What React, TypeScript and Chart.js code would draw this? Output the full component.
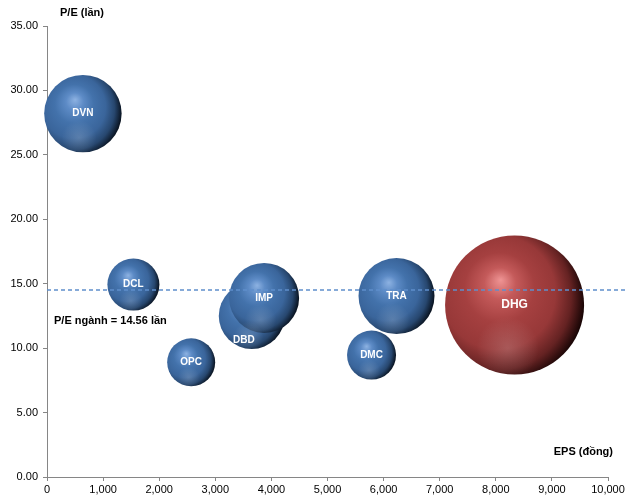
import React, { useEffect, useRef } from "react";
import { Chart, registerables } from "chart.js";

Chart.register(...registerables);

const companies = ["DVN", "DCL", "OPC", "DBD", "IMP", "TRA", "DMC", "DHG"];
const eps = [640, 1540, 2570, 3650, 3870, 6230, 5785, 8335];
const pe = [28.2, 14.93, 8.9, 12.5, 13.9, 14.04, 9.46, 13.35];
const bubbleSize = [1500, 676, 576, 1089, 1225, 1444, 600, 4830];
const industryPE = 14.56;
const highlighted = "DHG";

const MAX_R = 69.5;
const FONT = "'Liberation Sans', Arial, sans-serif";
const labelOffsets: Record<string, [number, number]> = { DBD: [-8, 24] };

const maxSize = Math.max(...bubbleSize);
const radiusOf = (i: number) => MAX_R * Math.sqrt(bubbleSize[i] / maxSize);

const blueStops: [number, string][] = [
  [0, "#8db2e2"],
  [0.18, "#5d8bc6"],
  [0.4, "#4372ab"],
  [0.65, "#3a659b"],
  [0.84, "#27476f"],
  [1, "#08111d"],
];
const redStops: [number, string][] = [
  [0, "#ef9494"],
  [0.18, "#c45a5a"],
  [0.4, "#a54040"],
  [0.65, "#973838"],
  [0.84, "#642222"],
  [1, "#160404"],
];

export default function App() {
  const ref = useRef<HTMLCanvasElement | null>(null);

  useEffect(() => {
    document.body.style.margin = "0";
    const canvas = ref.current;
    if (!canvas) return;

    const overlay = {
      id: "overlay",
      afterDatasetsDraw(chart: any) {
        const { ctx, chartArea, scales } = chart;
        ctx.save();
        companies.forEach((name, i) => {
          const cx = scales.x.getPixelForValue(eps[i]);
          const cy = scales.y.getPixelForValue(pe[i]);
          const r = radiusOf(i);
          ctx.save();
          ctx.beginPath();
          ctx.arc(cx, cy, r, 0, Math.PI * 2);
          ctx.clip();
          const g = ctx.createRadialGradient(cx - 0.1 * r, cy + 0.62 * r, 0, cx - 0.1 * r, cy + 0.62 * r, 0.45 * r);
          g.addColorStop(0, "rgba(255,255,255,0.16)");
          g.addColorStop(1, "rgba(255,255,255,0)");
          ctx.fillStyle = g;
          ctx.fillRect(cx - r, cy - r, 2 * r, 2 * r);
          ctx.restore();
        });

        const yRaw = scales.y.getPixelForValue(industryPE);
        const yLine = Math.round(yRaw) + 1;
        ctx.strokeStyle = "#5f8fcc";
        ctx.lineWidth = 1.3;
        ctx.setLineDash([4, 3]);
        ctx.beginPath();
        ctx.moveTo(chartArea.left, yLine);
        ctx.lineTo(chart.width - 2, yLine);
        ctx.stroke();
        ctx.setLineDash([]);

        ctx.fillStyle = "#ffffff";
        ctx.textAlign = "center";
        ctx.textBaseline = "middle";
        companies.forEach((name, i) => {
          const x = scales.x.getPixelForValue(eps[i]);
          const y = scales.y.getPixelForValue(pe[i]);
          const off = labelOffsets[name] || [0, 0];
          ctx.font = `bold ${name === highlighted ? 12 : 10}px ${FONT}`;
          ctx.fillText(name, x + off[0], y + off[1]);
        });

        ctx.fillStyle = "#000000";
        ctx.font = `bold 11px ${FONT}`;
        ctx.textAlign = "left";
        ctx.fillText(`P/E ngành = ${industryPE.toFixed(2)} lần`, chartArea.left + 7, yRaw + 32);
        ctx.textAlign = "center";
        ctx.fillText("P/E (lần)", 82, 13);
        ctx.textAlign = "right";
        ctx.fillText("EPS (đồng)", 613, 452);
        ctx.restore();
      },
    };

    const chart = new Chart(canvas, {
      type: "bubble",
      data: {
        datasets: [
          {
            data: companies.map((_, i) => ({ x: eps[i], y: pe[i], r: radiusOf(i) })),
            clip: false,
            borderWidth: 0,
            hoverBorderWidth: 0,
            backgroundColor: (c: any) => {
              const ch = c.chart;
              if (!ch.chartArea || c.dataIndex === undefined) return "#3a679f";
              const i = c.dataIndex;
              const cx = ch.scales.x.getPixelForValue(eps[i]);
              const cy = ch.scales.y.getPixelForValue(pe[i]);
              const r = radiusOf(i);
              const g = ch.ctx.createRadialGradient(
                cx - 0.2 * r,
                cy - 0.36 * r,
                0,
                cx - 0.25 * r,
                cy - 0.08 * r,
                1.26 * r
              );
              const stops = companies[i] === highlighted ? redStops : blueStops;
              stops.forEach(([o, col]) => g.addColorStop(o, col));
              return g;
            },
          } as any,
        ],
      },
      options: {
        responsive: false,
        animation: false,
        events: [],
        layout: { autoPadding: false, padding: { top: 26, right: 19, left: 0, bottom: 0 } },
        plugins: { legend: { display: false }, tooltip: { enabled: false } },
        scales: {
          x: {
            type: "linear",
            min: 0,
            max: 10000,
            afterFit: (s: any) => {
              s.height = 25;
            },
            ticks: {
              stepSize: 1000,
              color: "#000",
              padding: 2,
              maxRotation: 0,
              font: { family: FONT, size: 11 },
              callback: (v: any) => Number(v).toLocaleString("en-US"),
            },
            grid: { display: true, drawOnChartArea: false, drawTicks: true, tickLength: 4, color: "#868686" },
            border: { display: true, color: "#868686" },
          },
          y: {
            type: "linear",
            min: 0,
            max: 35,
            afterFit: (s: any) => {
              s.width = 47;
            },
            ticks: {
              stepSize: 5,
              color: "#000",
              padding: 5,
              font: { family: FONT, size: 11 },
              callback: (v: any) => Number(v).toFixed(2),
            },
            grid: { display: true, drawOnChartArea: false, drawTicks: true, tickLength: 4, color: "#868686" },
            border: { display: true, color: "#868686" },
          },
        },
      },
      plugins: [overlay],
    });

    return () => chart.destroy();
  }, []);

  return (
    <div style={{ position: "absolute", left: 0, top: 0, width: 627, height: 502, background: "#fff" }}>
      <canvas ref={ref} width={627} height={502} style={{ width: 627, height: 502 }} />
    </div>
  );
}
